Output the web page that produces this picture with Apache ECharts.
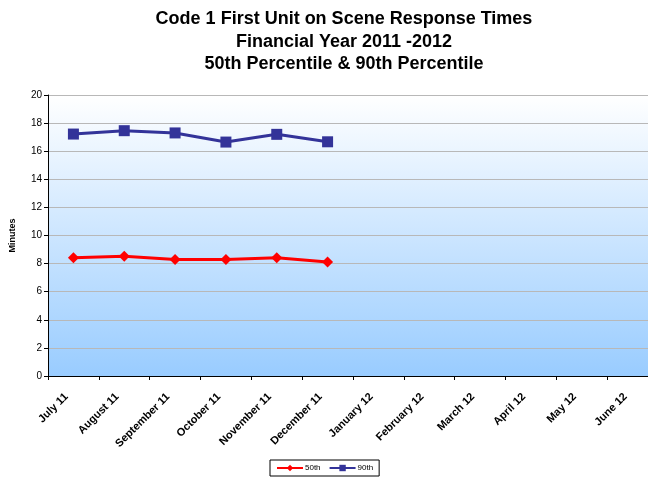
<!DOCTYPE html>
<html><head><meta charset="utf-8">
<script src="https://cdn.jsdelivr.net/npm/echarts@6/dist/echarts.min.js"></script>
<style>html,body{margin:0;padding:0;background:#fff;overflow:hidden}#c{width:660px;height:477px}</style>
</head><body><div id="c"></div>
<script>
const categories = ['July 11','August 11','September 11','October 11','November 11','December 11','January 12','February 12','March 12','April 12','May 12','June 12'];
const p50 = [8.42, 8.52, 8.3, 8.3, 8.42, 8.11, null, null, null, null, null, null];
const p90 = [17.22, 17.46, 17.3, 16.65, 17.2, 16.67, null, null, null, null, null, null];
const yTicks = {min: 0, max: 20, interval: 2};
const titleLines = ['Code 1 First Unit on Scene Response Times', 'Financial Year 2011 -2012', '50th Percentile & 90th Percentile'];

const chart = echarts.init(document.getElementById('c'));
chart.setOption({
  animation: false,
  backgroundColor: '#fff',
  title: {
    text: titleLines.join('\n'),
    left: 339, top: 3, textAlign: 'center',
    textStyle: {fontFamily: 'Liberation Sans, Arial', fontWeight: 'bold', fontSize: 18, lineHeight: 22.5, color: '#000'}
  },
  legend: {
    bottom: 1, left: 270,
    itemWidth: 26, itemHeight: 8, itemGap: 8,
    padding: [4, 6],
    borderColor: '#000', borderWidth: 1,
    textStyle: {fontFamily: 'Liberation Sans, Arial', fontSize: 8, color: '#000', padding: [0, 0, 0, -3]},
    data: ['50th', '90th']
  },
  grid: {
    left: 48, top: 95, width: 610, height: 281,
    show: true, borderWidth: 0,
    backgroundColor: {type: 'linear', x: 0, y: 0, x2: 0, y2: 1, colorStops: [{offset: 0, color: '#ffffff'}, {offset: 1, color: '#99ccff'}]}
  },
  xAxis: {
    type: 'category', data: categories, boundaryGap: true,
    axisLine: {lineStyle: {color: '#000', width: 1}},
    axisTick: {show: true, alignWithLabel: false, length: 4, lineStyle: {color: '#000'}},
    axisLabel: {rotate: 45, interval: 0, fontFamily: 'Liberation Sans, Arial', fontWeight: 'bold', fontSize: 11, color: '#000', margin: 12, padding: [0, 10, 0, 0]}
  },
  yAxis: {
    type: 'value', min: yTicks.min, max: yTicks.max, interval: yTicks.interval,
    name: 'Minutes', nameLocation: 'middle', nameGap: 31, nameRotate: 90,
    nameTextStyle: {fontFamily: 'Liberation Sans, Arial', fontWeight: 'bold', fontSize: 9, color: '#000'},
    axisLine: {show: true, lineStyle: {color: '#000', width: 1}},
    axisTick: {show: true, length: 4, lineStyle: {color: '#000'}},
    axisLabel: {fontFamily: 'Liberation Sans, Arial', fontSize: 10, color: '#000', margin: 6},
    splitLine: {show: true, lineStyle: {color: '#b8b8b8', width: 1}}
  },
  series: [
    {name: '50th', type: 'line', data: p50, symbol: 'diamond', symbolSize: 11,
     itemStyle: {color: '#ff0000'}, lineStyle: {color: '#ff0000', width: 3}},
    {name: '90th', type: 'line', data: p90, symbol: 'rect', symbolSize: 11,
     itemStyle: {color: '#333399'}, lineStyle: {color: '#333399', width: 3}}
  ]
});
</script></body></html>
